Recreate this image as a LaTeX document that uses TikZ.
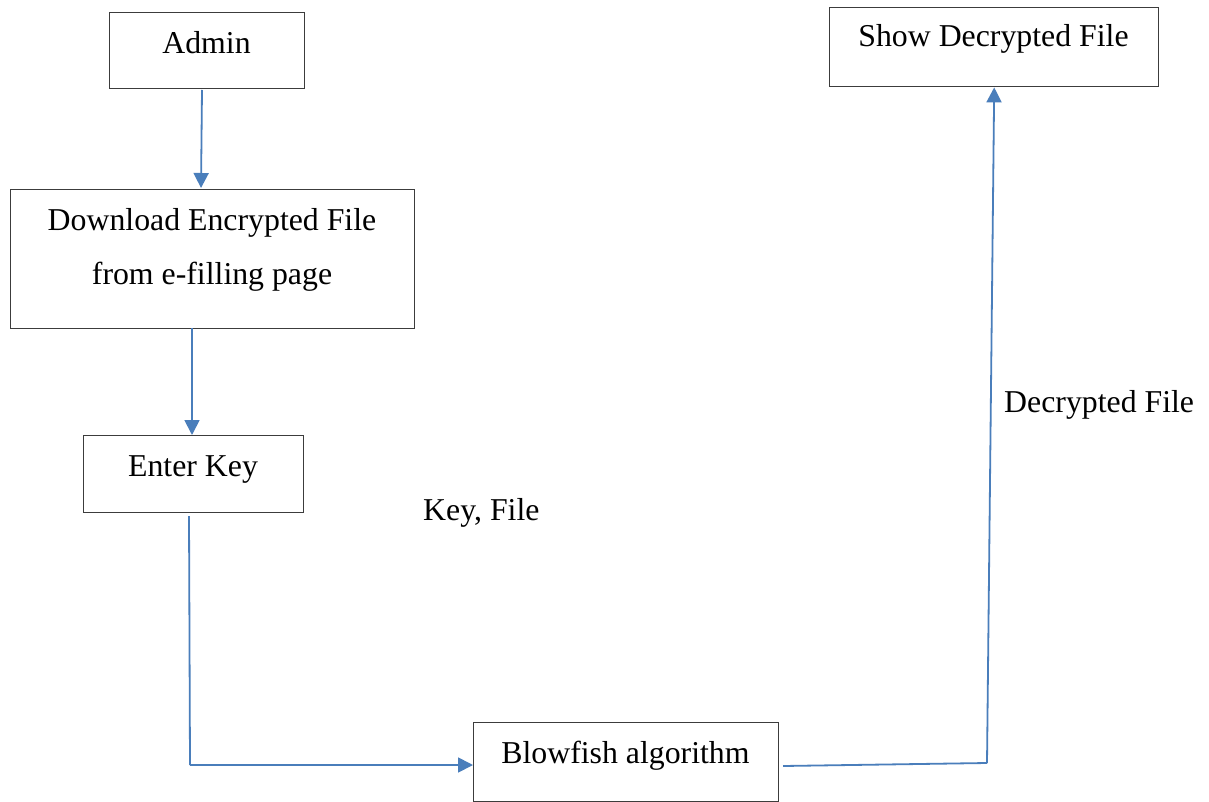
\documentclass[tikz,border=0pt]{standalone}
\usepackage{fontspec}
\setmainfont{Liberation Serif}
\usetikzlibrary{arrows.meta}
\definecolor{conn}{HTML}{4A7EBB}
\definecolor{edge}{HTML}{3C3C3C}
\begin{document}
\begin{tikzpicture}[x=1pt,y=-1pt,
  box/.style={draw=edge,line width=1.4pt,inner sep=0pt,anchor=north west},
  txt/.style={inner sep=0pt,font=\fontsize{31.8}{54}\selectfont},
  flow/.style={draw=conn,line width=1.8pt,-{Triangle[length=15pt,width=15pt]}},
  flowline/.style={draw=conn,line width=1.8pt}]
\useasboundingbox[fill=white] (0,0) rectangle (1209,802);
% boxes
\node[box,minimum width=195pt,minimum height=76pt] (admin) at (109,12) {};
\node[box,minimum width=404pt,minimum height=139pt] (down) at (10,189) {};
\node[box,minimum width=220pt,minimum height=77pt] (enter) at (83,435) {};
\node[box,minimum width=305pt,minimum height=79pt] (blow) at (473,722) {};
\node[box,minimum width=329pt,minimum height=79pt] (show) at (829,7) {};
% texts
\node[txt,anchor=base] (admint) at (206.5,54) {Admin};
\node[txt,anchor=north,align=center] (downt) at (212,208.5) {Download Encrypted File\\from e-filling page};
\node[txt,anchor=base] (entert) at (193,476) {Enter Key};
\node[txt,anchor=base] (blowt) at (625.5,763) {Blowfish algorithm};
\node[txt,anchor=base] (showt) at (993.5,47) {Show Decrypted File};
\node[txt,anchor=base west] (keyl) at (423,520) {Key, File};
\node[txt,anchor=base west] (decl) at (1004,412) {Decrypted File};
% connectors
\coordinate (a1) at (202,90);
\coordinate (a2) at (201,188);
\draw[flow] (a1) -- (a2);
\coordinate (b1) at (192,328);
\draw[flow] (b1) -- (b1 |- enter.north);
\coordinate (c0) at (189,516);
\coordinate (c1) at (190,765);
\draw[flowline] (c0) -- (c1);
\draw[flow] (c1) -- (c1 -| blow.west);
\coordinate (d0) at (783,766);
\coordinate (d1) at (987,763);
\draw[flowline] (d0) -- (d1);
\draw[flow] (d1) -- (show.south);
\end{tikzpicture}
\end{document}
